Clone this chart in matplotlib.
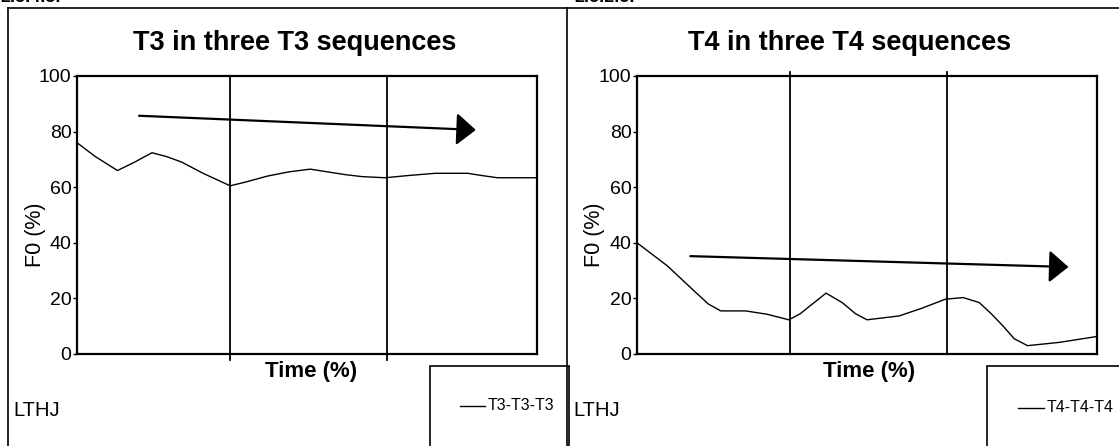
# F0-verloop van T3 en T4 in drie opeenvolgende toonreeksen.
import matplotlib
matplotlib.use('Agg')
import matplotlib.pyplot as plt
from matplotlib import font_manager
from matplotlib.lines import Line2D
from matplotlib.patches import Rectangle

plt.rcParams['font.family'] = ['Liberation Sans', 'DejaVu Sans']

# Smalle letter voor de getallen, als die er is.
namen = {f.name for f in font_manager.fontManager.ttflist}
smal = 'Liberation Sans Narrow' if 'Liberation Sans Narrow' in namen else 'Liberation Sans'

# Gegevens (tijd in %, F0 in %).

t3_tijd = [0, 4, 8.8, 12.5, 16.3, 19.5, 22.8, 27.4, 33.3, 37, 41.4, 46, 50.7, 54.5,
           58.4, 62, 67, 72, 77.9, 84.9, 88, 91.4, 95, 100]
t3_f0 = [76, 71, 66, 69, 72.4, 71, 69, 65, 60.5, 62, 64, 65.5, 66.5, 65.5,
         64.5, 63.8, 63.4, 64.2, 65, 65, 64.2, 63.4, 63.4, 63.4]

t4_tijd = [0, 6.6, 12.8, 15.5, 18.2, 23.6, 28.3, 33, 35.5, 37.6, 41.1, 44.6, 47.5,
           50, 57, 62, 67, 70.9, 74.4, 77, 79.5, 82, 84.9, 91.9, 100]
t4_f0 = [40, 31.7, 22.1, 18, 15.5, 15.5, 14.3, 12.3, 14.5, 17.3, 21.9, 18.5, 14.5,
         12.3, 13.7, 16.5, 19.7, 20.3, 18.5, 14.5, 10.2, 5.5, 3, 4.2, 6.3]

# Pijl: begin- en eindpunt (tijd, F0).
t3_pijl = [(13.5, 85.7), (86.7, 80.6)]
t4_pijl = [(11.6, 35.2), (93.8, 31.3)]

# Grenzen tussen de drie reeksen.
grenzen = [33.3, 67.3]

yticks = [0, 20, 40, 60, 80, 100]

panelen = [
    dict(titel='T3 in three T3 sequences', tijd=t3_tijd, f0=t3_f0, pijl=t3_pijl,
         label='T3-T3-T3', kop='2.5.4.3.'),
    dict(titel='T4 in three T4 sequences', tijd=t4_tijd, f0=t4_f0, pijl=t4_pijl,
         label='T4-T4-T4', kop='2.5.2.5.'),
]

W, H = 1119, 446
fig = plt.figure(figsize=(W / 100, H / 100), dpi=100)


def px(x, y):
    # pixelcoordinaten (links boven = 0,0) naar figuurfracties
    return x / W, 1 - y / H


# Kaders rond de panelen.
fig.add_artist(Line2D([8 / W, 1], [1 - 7.5 / H] * 2, color='k', lw=1.2))
fig.add_artist(Line2D([8 / W] * 2, [0, 1 - 7.5 / H], color='k', lw=1.2))
fig.add_artist(Line2D([567 / W] * 2, [0, 1 - 7.5 / H], color='k', lw=1.2))

# Per paneel: linkerrand plot, titel-x, Time-x, F0-x, LTHJ-x, kop-x, legenda-kader-x
plek = [
    dict(links=77, titel=295, tijd=311, f0=35, lthj=13, kop=0, kader=430, lijn=(460, 485)),
    dict(links=637, titel=850, tijd=869, f0=595, lthj=573, kop=574, kader=987, lijn=(1018, 1044)),
]

for i, p in enumerate(panelen):
    pl = plek[i]
    ax = fig.add_axes([pl['links'] / W, 1 - 354 / H, 460 / W, 278 / H])
    ax.plot(p['tijd'], p['f0'], color='k', lw=1.0)
    ax.set_xlim(0, 100)
    ax.set_ylim(0, 100)
    ax.set_yticks(yticks)
    ax.set_yticklabels([str(v) for v in yticks], fontsize=14, family=smal)
    ax.set_xticks([])
    ax.tick_params(axis='y', length=3, width=1, pad=1, direction='out')
    for s in ax.spines.values():
        s.set_linewidth(1.6)

    # verticale lijnen tussen de reeksen
    for g in grenzen:
        if i == 0:
            ax.plot([g, g], [-2, 100], color='k', lw=1.3, clip_on=False)
        else:
            ax.plot([g, g], [0, 101.5], color='k', lw=1.3, clip_on=False)

    (x0, y0), (x1, y1) = p['pijl']
    ax.annotate('', xy=(x1, y1), xytext=(x0, y0),
                arrowprops=dict(arrowstyle='-|>,head_length=0.6,head_width=0.5',
                                lw=1.6, color='k', mutation_scale=20,
                                shrinkA=0, shrinkB=0))

    fig.text(*px(pl['titel'], 43), p['titel'], fontsize=19.5, fontweight='bold',
             ha='center', va='center')
    fig.text(*px(pl['tijd'], 371), 'Time (%)', fontsize=16, fontweight='bold',
             ha='center', va='center')
    fig.text(*px(pl['f0'], 235), 'F0 (%)', fontsize=15.5, rotation=90,
             ha='center', va='center')
    fig.text(*px(pl['lthj'], 410), 'LTHJ', fontsize=14.5, ha='left', va='center')
    fig.text(*px(pl['kop'], 2), p['kop'], fontsize=13, fontweight='bold',
             ha='left', va='baseline')

    # legendakader, valt onderaan buiten het beeld
    kx = pl['kader']
    fig.add_artist(Rectangle(px(kx, 460), 139 / W, 94 / H, transform=fig.transFigure,
                             fill=False, ec='k', lw=1.2))
    ly = 406 if i == 0 else 408
    l0, l1 = pl['lijn']
    fig.add_artist(Line2D([l0 / W, l1 / W], [1 - ly / H] * 2, color='k', lw=1.0))
    fig.text(*px(l1 + 3, ly), p['label'], fontsize=11.5, family=smal,
             ha='left', va='center')

fig.savefig('out.png', dpi=100)
